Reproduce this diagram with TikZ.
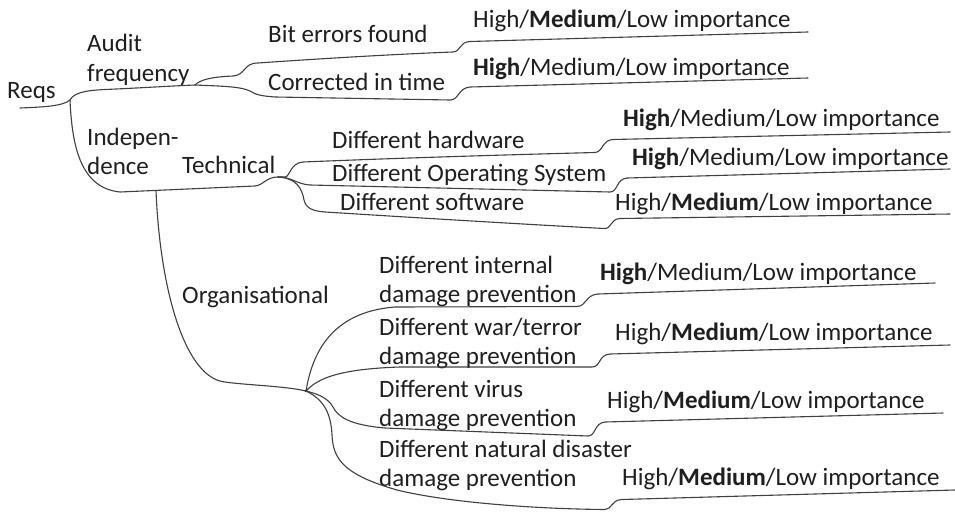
\documentclass[tikz,border=0pt]{standalone}
\usepackage{fontspec}
\setmainfont{Carlito}
\newcommand\mapfont{\fontsize{25}{29.5}\selectfont}
% two-line label, first line on the node's baseline
\newcommand\twolines[2]{\begin{tabular}[t]{@{}l@{}}#1\\#2\end{tabular}}
\begin{document}
\begin{tikzpicture}[x=1pt,y=-1pt,
  branch/.style={draw=black!75, line width=1.1pt, line cap=round, line join=round},
  lbl/.style={anchor=base west, inner sep=0pt, text=black!88, font=\mapfont}]
\useasboundingbox (0,0) rectangle (955,511);
\fill[white] (0,0) rectangle (955,511);

% junctions and free ends of the branches
\coordinate (reqs0) at (20,108);
\coordinate (root)  at (70,100);
\coordinate (audit) at (195,85);
\coordinate (indep) at (156,190.5);
\coordinate (tech)  at (278,177);
\coordinate (org)   at (306,391);
\coordinate (bitE)  at (808,32);
\coordinate (corE)  at (808,78);
\coordinate (hwE)   at (950,132);
\coordinate (osE)   at (950,169);
\coordinate (swE)   at (950,214);
\coordinate (intE)  at (935,283);
\coordinate (warE)  at (950,345);
\coordinate (virE)  at (943,413);
\coordinate (natE)  at (955,490);

% labels
\node[lbl] (reqs) at (7,98) {Reqs};
\node[lbl] (auditT) at (87,52) {\twolines{Audit}{frequency}};
\node[lbl] (bit) at (268,43) {Bit errors found};
\node[lbl] (cor) at (268,90) {Corrected in time};
\node[lbl] (bitI) at (473,28) {High/\textbf{Medium}/Low importance};
\node[lbl] (corI) at (473,75) {\textbf{High}/Medium/Low importance};
\node[lbl] (indepT) at (87,145) {\twolines{Indepen-}{dence}};
\node[lbl] (techT) at (182,173) {Technical};
\node[lbl] (hw) at (332,148) {Different hardware};
\node[lbl] (os) at (332,181) {Different Operating System};
\node[lbl] (sw) at (340,210) {Different software};
\node[lbl] (hwI) at (623,126) {\textbf{High}/Medium/Low importance};
\node[lbl] (osI) at (632,165) {\textbf{High}/Medium/Low importance};
\node[lbl] (swI) at (615,210) {High/\textbf{Medium}/Low importance};
\node[lbl] (orgT) at (182,303) {Organisational};
\node[lbl] (int) at (379,273) {\twolines{Different internal}{damage prevention}};
\node[lbl] (war) at (379,335) {\twolines{Different war/terror}{damage prevention}};
\node[lbl] (vir) at (379,397) {\twolines{Different virus}{damage prevention}};
\node[lbl] (nat) at (379,457) {\twolines{Different natural disaster}{damage prevention}};
\node[lbl] (intI) at (600,280) {\textbf{High}/Medium/Low importance};
\node[lbl] (warI) at (615,340) {High/\textbf{Medium}/Low importance};
\node[lbl] (virI) at (607,408) {High/\textbf{Medium}/Low importance};
\node[lbl] (natI) at (622,485) {High/\textbf{Medium}/Low importance};

% root
\draw[branch] (reqs0) .. controls (45,107) and (63,106) .. (root);
% Audit frequency
\draw[branch] (root) .. controls (74,93) and (84,90.5) .. (105,89.5)
  .. controls (140,88) and (170,86) .. (audit);
\draw[branch] (audit) .. controls (200,80) and (210,77) .. (233,76)
  .. controls (246,75) and (243,63) .. (258,63)
  .. controls (330,58) and (400,54) .. (453,52)
  .. controls (461,51.5) and (459,42) .. (470,41.5) -- (bitE);
\draw[branch] (audit) .. controls (215,86) and (240,86) .. (250,91)
  .. controls (256,95) and (262,96) .. (275,97) -- (450,100)
  .. controls (459,100) and (458,88) .. (470,87) -- (corE);
% Independence
\draw[branch] (root) .. controls (72,145) and (80,188) .. (120,192) -- (255,186)
  .. controls (264,185) and (266,177) .. (tech);
% Technical
\draw[branch] (tech) -- (285,177) .. controls (290,177) and (290,163) .. (303,162)
  .. controls (400,158) and (500,155) .. (595,152.5)
  .. controls (603,152) and (602,140) .. (613,139.5) -- (hwE);
\draw[branch] (tech) .. controls (292,177) and (296,184) .. (310,185) -- (610,192)
  .. controls (618,192) and (616,179) .. (627,178) -- (osE);
\draw[branch] (tech) .. controls (296,178) and (302,188) .. (304,200)
  .. controls (306,208) and (312,211) .. (325,212)
  .. controls (420,218) and (520,224) .. (604,228.5)
  .. controls (612,229) and (610,219) .. (620,218.5) -- (swE);
% Organisational
\draw[branch] (indep) .. controls (160,290) and (185,378) .. (225,382)
  .. controls (245,385) and (285,386) .. (org);
\draw[branch] (org) .. controls (312,355) and (330,312) .. (395,307) -- (577,306.5)
  .. controls (587,306) and (585,295) .. (598,294) -- (intE);
\draw[branch] (org) .. controls (318,378) and (340,369) .. (400,367) -- (592,367)
  .. controls (601,367) and (598,355) .. (610,354) -- (warE);
\draw[branch] (org) .. controls (318,394) and (328,398) .. (333,407)
  .. controls (338,417) and (350,425) .. (385,428) -- (588,436)
  .. controls (596,436) and (594,423) .. (605,422) -- (virE);
\draw[branch] (org) .. controls (325,400) and (331,415) .. (332,435)
  .. controls (333,460) and (345,475) .. (397,490)
  .. controls (450,503) and (540,509) .. (605,509.5)
  .. controls (612,509.5) and (611,500) .. (622,499.5) -- (natE);
\fill[black!80] (org) circle (1.4);
\end{tikzpicture}
\end{document}
